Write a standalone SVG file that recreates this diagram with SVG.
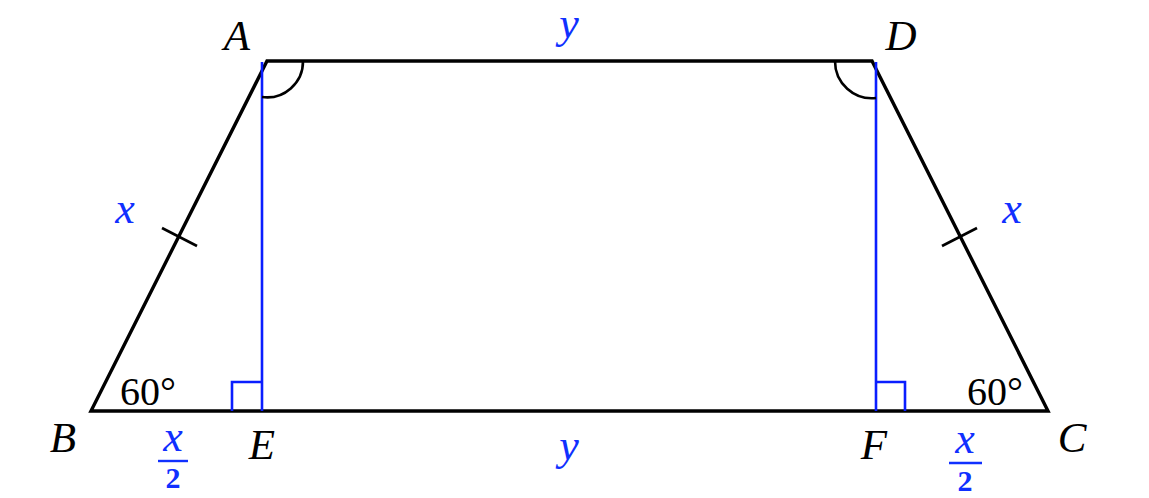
<svg xmlns="http://www.w3.org/2000/svg" width="1149" height="498" viewBox="0 0 1149 498">
<style>
.edge{fill:none;stroke:#000;stroke-width:3.4;stroke-linejoin:miter;stroke-linecap:round}
.thin{fill:none;stroke:#000;stroke-width:2.6}
.blue{fill:none;stroke:#0a1eff;stroke-width:2.6}
.lbl{font-family:"Liberation Serif",serif;font-style:italic;font-size:43px;fill:#000;text-anchor:middle}
.deg{font-family:"Liberation Serif",serif;font-size:40px;fill:#000;text-anchor:middle}
.bl{font-family:"Liberation Serif",serif;font-style:italic;font-size:44px;fill:#1030ff;text-anchor:middle}
.num{font-family:"Liberation Serif",serif;font-size:30px;font-weight:bold;fill:#1030ff;text-anchor:middle}
</style>
<rect width="1149" height="498" fill="#fff"/>
<g id="connectors">
<path class="edge" d="M267 61 L872 61 L1048 411 L91 411 Z"/>
<path class="blue" d="M262 62 V411 M876 62 V411"/>
<path class="blue" d="M232 411 V382 H262 M876 382 H905 V411"/>
<path class="thin" d="M303 61 A36 36 0 0 1 262 97"/>
<path class="thin" d="M835 61 A37 37 0 0 0 876 98"/>
<path class="thin" d="M162 228 L197 246"/>
<path class="thin" d="M942 246 L977 228"/>
<line x1="158" y1="461" x2="188" y2="461" stroke="#1030ff" stroke-width="2.4"/>
<line x1="949" y1="463" x2="982" y2="463" stroke="#1030ff" stroke-width="2.4"/>
</g>
<g id="A"><text class="lbl" x="237" y="50">A</text></g>
<g id="D"><text class="lbl" x="901" y="50">D</text></g>
<g id="B"><text class="lbl" x="63" y="452">B</text></g>
<g id="C"><text class="lbl" x="1072" y="452">C</text></g>
<g id="E"><text class="lbl" x="262" y="459">E</text></g>
<g id="F"><text class="lbl" x="874" y="459">F</text></g>
<g id="labels">
<text class="bl" x="569" y="38" font-size="41">y</text>
<text class="bl" x="569" y="460">y</text>
<text class="bl" x="125" y="223">x</text>
<text class="bl" x="1012" y="223">x</text>
<text class="bl" x="173" y="451">x</text>
<text class="num" x="173" y="488">2</text>
<text class="bl" x="965" y="453">x</text>
<text class="num" x="965" y="491">2</text>
<text class="deg" x="148" y="405">60°</text>
<text class="deg" x="995" y="405">60°</text>
</g>
</svg>
